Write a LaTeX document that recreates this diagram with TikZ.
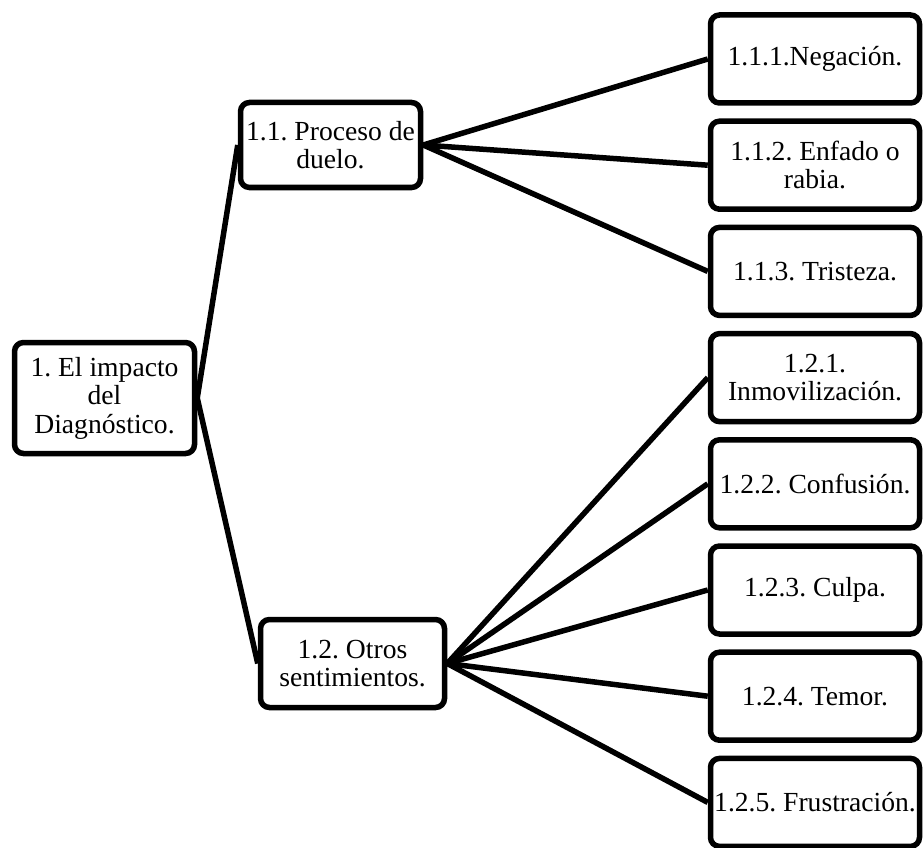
\documentclass[tikz,border=0pt]{standalone}
\usepackage{fontspec}
\setmainfont{Liberation Serif}
\usetikzlibrary{positioning}
\frenchspacing

\begin{document}
\begin{tikzpicture}[x=1pt,y=-1pt,line width=5.5pt,node distance=106.2pt,
 font=\fontsize{27.6}{28.5}\selectfont]
 \tikzstyle{box}=[draw,rounded corners=9pt,align=center,inner sep=2pt,
 minimum height=88pt]
 \tikzstyle{leaf}=[box,minimum width=209pt]
 \useasboundingbox (0,0) rectangle (924,848);
 \node[box,minimum width=180pt,minimum height=111pt] (R) at (104.5,398)
 {1. El impacto\\del\\Diagnóstico.};
 \node[box,minimum width=180pt,minimum height=85pt] (P1) at (330.5,145)
 {1.1. Proceso de\\duelo.};
 \node[box,minimum width=184pt] (P2) at (352.5,663.5)
 {1.2. Otros\\sentimientos.};
 \node[leaf]          (A1) at (815,59)  {1.1.1.Negación.};
 \node[leaf]          (A2) [below of=A1] {1.1.2. Enfado o\\rabia.};
 \node[leaf]          (A3) [below of=A2] {1.1.3. Tristeza.};
 \node[leaf]          (B1) [below of=A3] {1.2.1.\\Inmovilización.};
 \node[leaf]          (B2) [below of=B1] {1.2.2. Confusión.};
 \node[leaf]          (B3) [below of=B2] {1.2.3. Culpa.};
 \node[leaf]          (B4) [below of=B3] {1.2.4. Temor.};
 \node[leaf]          (B5) [below of=B4] {1.2.5. Frustración.};

 \path (R.east) edge (P1.west)
 edge (P2.west);
 \path (P1.east) edge (A1.west)
 edge (A2.west)
 edge (A3.west);
 \path (P2.east) edge (B1.west)
 edge (B2.west)
 edge (B3.west)
 edge (B4.west)
 edge (B5.west);
\end{tikzpicture}
\end{document}
